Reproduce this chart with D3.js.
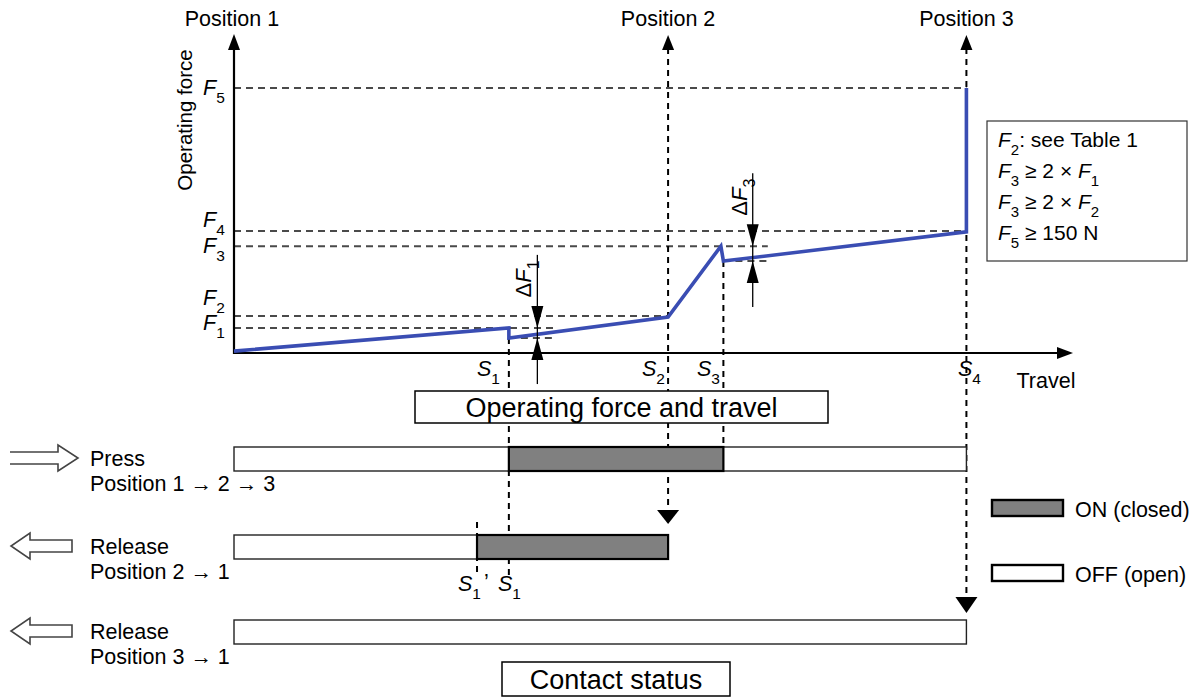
<!DOCTYPE html>
<html><head><meta charset="utf-8">
<script src="https://cdn.jsdelivr.net/npm/d3@7"></script>
<style>
html,body{margin:0;padding:0;background:#fff;}
svg{display:block;font-family:"Liberation Sans",Arial,sans-serif;}
</style></head>
<body>
<svg id="c" width="1197" height="698"></svg>
<script>
// ---------- data ----------
const positionNames = ["Position 1", "Position 2", "Position 3"];
const positionTravel = [0, 51.8, 87.4];
const sNames = ["1", "2", "3", "4"];
const sTravel = [32.8, 51.8, 58.4, 87.4];
const forceNames = ["1", "2", "3", "4", "5"];
const forceValues = [7.9, 11.6, 33.6, 38.4, 83.3];
const forceGuideEnd = [38.1, 51.8, 63.7, 87.4, 87.4];
const dropValues = [4.7, 28.9];
const dropStart = [32.8, 58.4];
const dropEnd = [38.1, 63.7];
const curveTravel = [0, 32.8, 32.8, 51.8, 58.1, 58.4, 87.4, 87.4];
const curveForce = [0.6, 7.9, 4.7, 11.3, 33.6, 28.9, 38.1, 83.3];
const deltaNames = ["1", "3"];
const deltaTravel = [36.2, 61.9];
const deltaTop = [7.9, 33.6];
const deltaBottom = [4.7, 28.9];
const rowTitles = ["Press", "Release", "Release"];
const rowSubs = ["Position 1 \u2192 2 \u2192 3", "Position 2 \u2192 1", "Position 3 \u2192 1"];
const rowEnd = [87.4, 51.8, 87.4];
const rowOnStart = [32.8, 29.0, null];
const rowOnEnd = [58.4, 51.8, null];
const s1Prime = 29.0;
const notes = [["2", ": see Table 1", "", ""], ["3", " \u2265 2 \u00d7 ", "F", "1"], ["3", " \u2265 2 \u00d7 ", "F", "2"], ["5", " \u2265 150 N", "", ""]];

// ---------- scales ----------
const svg = d3.select("#c");
const x = d3.scaleLinear().domain([0, 100]).range([234, 1072]);
const y = d3.scaleLinear().domain([0, 100]).range([353, 35]);
const rowY = [447, 535, 620];
const barH = 24;
const ON = "#808080";
const FS = 21.5;

function arrowHead(g, cx, cy, dir, hw, len) {
  let pts;
  if (dir === "up") pts = [[cx, cy], [cx - hw, cy + len], [cx + hw, cy + len]];
  else if (dir === "down") pts = [[cx, cy], [cx - hw, cy - len], [cx + hw, cy - len]];
  else if (dir === "right") pts = [[cx, cy], [cx - len, cy - hw], [cx - len, cy + hw]];
  g.append("path").attr("d", d3.line()(pts) + "Z").attr("fill", "#000");
}

// ---------- horizontal force guides ----------
const guides = svg.append("g").attr("stroke", "#4a4a4a").attr("stroke-width", 2).attr("stroke-dasharray", "7,5");
forceValues.forEach((v, i) => {
  guides.append("line").attr("x1", x(0)).attr("x2", x(forceGuideEnd[i])).attr("y1", y(v)).attr("y2", y(v));
});
dropValues.forEach((v, i) => {
  guides.append("line").attr("x1", x(dropStart[i])).attr("x2", x(dropEnd[i])).attr("y1", y(v)).attr("y2", y(v));
});

// ---------- vertical dashed lines ----------
const vd = svg.append("g").attr("stroke", "#000").attr("stroke-width", 2).attr("stroke-dasharray", "6,5");
vd.append("line").attr("x1", x(sTravel[0])).attr("x2", x(sTravel[0])).attr("y1", y(dropValues[0])).attr("y2", 580);
vd.append("line").attr("x1", x(s1Prime)).attr("x2", x(s1Prime)).attr("y1", 522).attr("y2", 572);
vd.append("line").attr("x1", x(sTravel[1])).attr("x2", x(sTravel[1])).attr("y1", 48).attr("y2", 512);
vd.append("line").attr("x1", x(sTravel[2])).attr("x2", x(sTravel[2])).attr("y1", y(dropValues[1])).attr("y2", rowY[0]);
vd.append("line").attr("x1", x(sTravel[3])).attr("x2", x(sTravel[3])).attr("y1", 48).attr("y2", 596);
arrowHead(svg, x(positionTravel[1]), 35, "up", 6, 15);
arrowHead(svg, x(positionTravel[2]), 35, "up", 6, 15);
arrowHead(svg, x(sTravel[1]), 524, "down", 11, 14);
arrowHead(svg, x(sTravel[3]), 613, "down", 11, 16);

// ---------- axes ----------
const ax = svg.append("g").attr("stroke", "#000").attr("stroke-width", 2.2);
ax.append("line").attr("x1", x(0)).attr("x2", x(0)).attr("y1", y(0) + 1).attr("y2", 48);
ax.append("line").attr("x1", x(0)).attr("x2", 1060).attr("y1", y(0)).attr("y2", y(0));
arrowHead(svg, x(0), 34, "up", 6, 16);
arrowHead(svg, 1073, y(0), "right", 6, 16);

// ---------- curve ----------
svg.append("path")
  .datum(curveTravel.map((t, i) => [t, curveForce[i]]))
  .attr("d", d3.line().x(d => x(d[0])).y(d => y(d[1])))
  .attr("fill", "none").attr("stroke", "#3a4db3").attr("stroke-width", 3.6).attr("stroke-linejoin", "miter");

// ---------- delta F markers ----------
deltaTravel.forEach((t, i) => {
  const cx = x(t);
  const top = y(deltaTop[i]), bot = y(deltaBottom[i]);
  svg.append("line").attr("x1", cx).attr("x2", cx).attr("y1", top - 73).attr("y2", bot + 46)
    .attr("stroke", "#000").attr("stroke-width", 1.3);
  arrowHead(svg, cx, top, "down", 6, 22);
  arrowHead(svg, cx, bot, "up", 6, 22);
  const lt = svg.append("text").attr("transform", `translate(${cx - 6},${top - 49}) rotate(-90)`)
    .attr("text-anchor", "middle").attr("font-size", 22);
  lt.append("tspan").text("\u0394");
  lt.append("tspan").attr("font-style", "italic").text("F");
  lt.append("tspan").attr("font-size", 16).attr("dy", 8).text(deltaNames[i]);
});

// ---------- labels ----------
function subLabel(px, py, main, sub, size, subSize, italic) {
  const t = svg.append("text").attr("x", px).attr("y", py).attr("font-size", size);
  t.append("tspan").attr("font-style", italic ? "italic" : "normal").text(main);
  t.append("tspan").attr("font-size", subSize).attr("dy", 8).text(sub);
  return t;
}
const fLabelY = [330, 305, 253, 227, 95];
forceNames.forEach((n, i) => subLabel(203, fLabelY[i], "F", n, 21.5, 15.5, true));
const sLabelX = [477, 642, 697, 958];
sNames.forEach((n, i) => subLabel(sLabelX[i], 376, "S", n, 21.5, 15.5, true));
subLabel(458, 591, "S", "1", 21.5, 15.5, true).append("tspan").attr("dy", -10).attr("dx", 3).text("\u2019");
subLabel(498, 591, "S", "1", 21.5, 15.5, true);

positionNames.forEach((n, i) => {
  svg.append("text").attr("x", x(positionTravel[i]) + (i === 0 ? -2 : 0)).attr("y", 26).attr("text-anchor", "middle")
    .attr("font-size", FS).text(n);
});
svg.append("text").attr("transform", "translate(192,120) rotate(-90)").attr("text-anchor", "middle")
  .attr("font-size", 20.5).text("Operating force");
svg.append("text").attr("x", 1046).attr("y", 388).attr("text-anchor", "middle").attr("font-size", FS).text("Travel");

// title boxes
function titleBox(x0, y0, w, h, label) {
  svg.append("rect").attr("x", x0).attr("y", y0).attr("width", w).attr("height", h)
    .attr("fill", "#fff").attr("stroke", "#000").attr("stroke-width", 1.5);
  svg.append("text").attr("x", x0 + w / 2).attr("y", y0 + h / 2 + 9.5).attr("text-anchor", "middle")
    .attr("font-size", 27).text(label);
}
titleBox(415, 391, 413, 32, "Operating force and travel");
titleBox(502, 662, 228, 34, "Contact status");

// notes box
svg.append("rect").attr("x", 987).attr("y", 121).attr("width", 200).attr("height", 140)
  .attr("fill", "#fff").attr("stroke", "#333").attr("stroke-width", 1.2);
notes.forEach((n, i) => {
  const t = svg.append("text").attr("x", 998).attr("y", 147 + i * 31).attr("font-size", 21);
  t.append("tspan").attr("font-style", "italic").text("F");
  t.append("tspan").attr("font-size", 15).attr("dy", 8).text(n[0]);
  t.append("tspan").attr("dy", -8).text(n[1]);
  if (n[2]) {
    t.append("tspan").attr("font-style", "italic").text(n[2]);
    t.append("tspan").attr("font-size", 15).attr("dy", 8).text(n[3]);
  }
});

// ---------- contact rows ----------
rowTitles.forEach((title, i) => {
  const top = rowY[i];
  svg.append("rect").attr("x", x(0)).attr("y", top).attr("width", x(rowEnd[i]) - x(0)).attr("height", barH)
    .attr("fill", "#fff").attr("stroke", "#222").attr("stroke-width", 1.4);
  if (rowOnStart[i] !== null) {
    svg.append("rect").attr("x", x(rowOnStart[i])).attr("y", top).attr("width", x(rowOnEnd[i]) - x(rowOnStart[i]))
      .attr("height", barH).attr("fill", ON).attr("stroke", "#000").attr("stroke-width", 2.2);
  }
  svg.append("text").attr("x", 90).attr("y", top + 19).attr("font-size", FS).text(title);
  svg.append("text").attr("x", 90).attr("y", top + 44).attr("font-size", FS).text(rowSubs[i]);
  // hollow arrow
  const cy = top + 11;
  let d;
  if (i === 0) {
    d = d3.line()([[10, cy - 6], [58, cy - 6], [58, cy - 13], [78, cy], [58, cy + 13], [58, cy + 6], [10, cy + 6]]);
  } else {
    d = d3.line()([[72, cy - 6], [30, cy - 6], [30, cy - 13], [11, cy], [30, cy + 13], [30, cy + 6], [72, cy + 6]]) + "Z";
  }
  svg.append("path").attr("d", d).attr("fill", "#fff").attr("stroke", "#444").attr("stroke-width", 1.6);
});

// legend
const legendLabels = ["ON (closed)", "OFF (open)"];
const legendFill = [ON, "#fff"];
legendLabels.forEach((l, i) => {
  const ly = 500 + i * 65;
  svg.append("rect").attr("x", 992).attr("y", ly).attr("width", 71).attr("height", 16)
    .attr("fill", legendFill[i]).attr("stroke", "#000").attr("stroke-width", 2.4);
  svg.append("text").attr("x", 1075).attr("y", ly + 17).attr("font-size", FS).text(l);
});
</script>
</body></html>
